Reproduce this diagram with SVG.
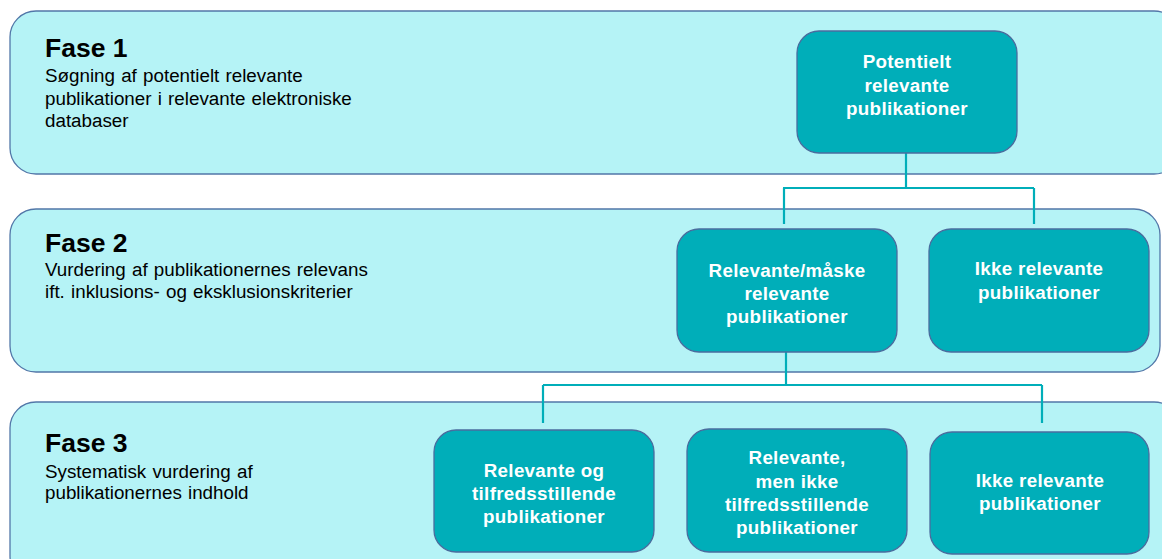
<svg xmlns="http://www.w3.org/2000/svg" width="1162" height="559" viewBox="0 0 1162 559">
<style>
.band{fill:#B5F3F6;stroke:#5277A8;stroke-width:1.3}
.node{fill:#00AEB9;stroke:#4A6C9E;stroke-width:1.3}
.conn{fill:none;stroke:#00AEB9;stroke-width:2.2}
.title{font-family:"Liberation Sans",Arial,sans-serif;font-weight:bold;font-size:26.5px;fill:#000}
.body{font-family:"Liberation Sans",Arial,sans-serif;font-size:18.8px;fill:#000;word-spacing:1px}
.nt{font-family:"Liberation Sans",Arial,sans-serif;font-weight:bold;font-size:18.8px;fill:#fff;text-anchor:middle;letter-spacing:0.3px}
</style>
<rect width="1162" height="559" fill="#fff"/>
<g id="fase1">
<rect class="band" x="10" y="11" width="1170" height="163" rx="26"/>
<text class="title" x="45" y="57">Fase 1</text>
<text class="body"><tspan x="45" y="82">Søgning af potentielt relevante</tspan><tspan x="45" y="105">publikationer i relevante elektroniske</tspan><tspan x="45" y="127">databaser</tspan></text>
</g>
<g id="fase2">
<rect class="band" x="10" y="209" width="1150" height="163" rx="26"/>
<text class="title" x="45" y="252">Fase 2</text>
<text class="body"><tspan x="45" y="276">Vurdering af publikationernes relevans</tspan><tspan x="45" y="298">ift. inklusions- og eksklusionskriterier</tspan></text>
</g>
<g id="fase3">
<rect class="band" x="10" y="402" width="1170" height="180" rx="26"/>
<text class="title" x="45" y="452">Fase 3</text>
<text class="body"><tspan x="45" y="478">Systematisk vurdering af</tspan><tspan x="45" y="499">publikationernes indhold</tspan></text>
</g>
<g id="connectors">
<path class="conn" d="M906 153 V188 M783 188 H1034 M784 188 V224 M1034 188 V224"/>
<path class="conn" d="M786 352 V385 M543 385 H1042 M543 385 V423 M1042 385 V423"/>
</g>
<g id="n1">
<rect class="node" x="797" y="31" width="220" height="122" rx="22"/>
<text class="nt"><tspan x="907" y="68">Potentielt</tspan><tspan x="907" y="91.5">relevante</tspan><tspan x="907" y="114.5">publikationer</tspan></text>
</g>
<g id="n2a">
<rect class="node" x="677" y="229" width="220" height="123" rx="22"/>
<text class="nt"><tspan x="787" y="277">Relevante/måske</tspan><tspan x="787" y="300">relevante</tspan><tspan x="787" y="323">publikationer</tspan></text>
</g>
<g id="n2b">
<rect class="node" x="929" y="229" width="220" height="123" rx="22"/>
<text class="nt"><tspan x="1039" y="275">Ikke relevante</tspan><tspan x="1039" y="299">publikationer</tspan></text>
</g>
<g id="n3a">
<rect class="node" x="434" y="430" width="220" height="122" rx="22"/>
<text class="nt"><tspan x="544" y="477">Relevante og</tspan><tspan x="544" y="500">tilfredsstillende</tspan><tspan x="544" y="523">publikationer</tspan></text>
</g>
<g id="n3b">
<rect class="node" x="687" y="429" width="220" height="123" rx="22"/>
<text class="nt"><tspan x="797" y="464">Relevante,</tspan><tspan x="797" y="488">men ikke</tspan><tspan x="797" y="511">tilfredsstillende</tspan><tspan x="797" y="533.5">publikationer</tspan></text>
</g>
<g id="n3c">
<rect class="node" x="930" y="432" width="219" height="122" rx="22"/>
<text class="nt"><tspan x="1040" y="487">Ikke relevante</tspan><tspan x="1040" y="509.5">publikationer</tspan></text>
</g>
</svg>
